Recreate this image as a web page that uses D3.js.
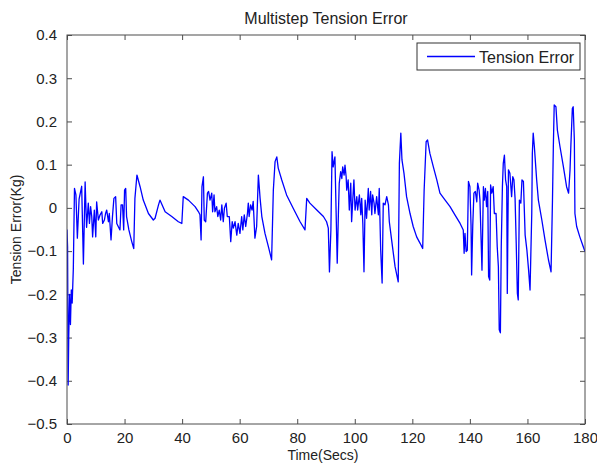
<!DOCTYPE html>
<html>
<head>
<meta charset="utf-8">
<script src="https://cdn.jsdelivr.net/npm/d3@7"></script>
<style>
  body { margin: 0; background: #fff; }
  text { font-family: "Liberation Sans", Arial, sans-serif; fill: #222; }
</style>
</head>
<body>
<div id="chart"></div>
<script>
// values
const timeSecs = [
  0, 0.2, 0.4, 0.6, 0.9, 1.2, 1.5, 1.8, 2.2, 2.6, 3.1, 3.6, 4.2, 5.1, 5.7, 6.3, 6.8, 7.4, 7.8, 8.2,
  8.6, 8.9, 9.5, 10.0, 10.3, 10.9, 11.5, 12.1, 12.4, 13.0, 13.4, 13.8, 14.4, 14.7, 15.3, 15.8, 16.3, 16.9, 17.3, 17.8,
  18.4, 18.8, 19.3, 19.7, 20.0, 20.4, 20.7, 21.5, 22.5, 23.2, 23.6, 24.3, 25.4, 26.5, 28.3, 30.0, 30.6, 31.8, 32.3, 34.1,
  36.4, 38.7, 39.9, 40.4, 42.2, 44.5, 45.7, 46.2, 46.6, 46.9, 47.4, 47.7, 48.2, 48.8, 49.2, 49.7, 50.3, 50.6, 51.1, 51.4,
  52.0, 52.4, 52.9, 53.4, 53.8, 54.3, 54.7, 55.3, 55.7, 56.4, 56.9, 57.4, 57.8, 58.4, 59.0, 59.5, 60.1, 60.7, 61.1, 61.6,
  62.1, 62.7, 63.0, 63.3, 63.8, 64.3, 64.7, 65.3, 65.9, 66.5, 67.1, 67.7, 68.8, 70.0, 71.1, 71.7, 72.3, 72.9, 73.4, 74.6,
  76.3, 78.6, 81.0, 82.7, 83.3, 84.4, 86.8, 89.1, 90.2, 90.8, 91.2, 91.7, 92.1, 92.5, 93.1, 93.9, 94.3, 94.6, 95.1, 95.5,
  95.8, 96.3, 96.6, 97.0, 97.2, 97.7, 98.1, 98.6, 98.9, 99.3, 99.7, 100.1, 100.7, 101.0, 101.6, 102.1, 102.4, 102.8, 103.2, 103.6,
  104.1, 104.7, 105.0, 105.5, 105.9, 106.2, 106.7, 107.0, 107.6, 108.2, 108.5, 109.0, 109.5, 109.9, 110.5, 111.1, 111.7, 112.0, 112.8, 114.0,
  115.1, 115.5, 116.0, 116.4, 117.1, 118.0, 119.2, 120.3, 121.5, 122.7, 123.6, 124.1, 124.8, 125.3, 126.1, 127.3, 128.5, 129.6, 131.4, 133.1,
  134.8, 136.6, 137.7, 138.0, 138.3, 138.7, 139.1, 139.5, 140.0, 140.4, 140.6, 141.0, 141.4, 141.9, 142.4, 142.7, 143.2, 143.5, 143.9, 144.2,
  144.7, 145.0, 145.4, 145.8, 146.2, 146.5, 146.9, 147.2, 147.6, 148.1, 148.5, 149.1, 149.5, 149.9, 150.2, 150.6, 150.9, 151.3, 151.6, 152.0,
  152.4, 152.8, 153.0, 153.4, 153.9, 154.5, 154.9, 155.3, 155.7, 156.1, 156.5, 156.8, 157.2, 157.7, 158.1, 158.6, 159.2, 159.8, 160.4, 160.9,
  161.5, 161.7, 162.0, 162.4, 163.2, 163.8, 165.0, 166.1, 167.3, 168.2, 168.7, 169.0, 169.3, 169.9, 170.4, 171.3, 172.5, 173.6, 174.3, 174.8,
  175.1, 175.6, 175.9, 176.3, 176.5, 177.1, 178.2, 179.4, 180.0
]
const tensionError = [
  -0.05, -0.09, -0.41, -0.30, -0.20, -0.27, -0.19, -0.22, -0.14, 0.045, 0.03, -0.07, 0.02, 0.05, -0.13, 0.06, -0.045, 0.011, -0.036, 0.003,
  -0.02, -0.067, -0.005, -0.067, 0.014, -0.028, -0.016, -0.009, -0.036, -0.028, -0.013, -0.005, -0.032, -0.013, -0.074, -0.02, 0.022, 0.026, -0.036, -0.043,
  -0.051, 0.007, 0.007, -0.051, 0.041, 0.045, -0.02, -0.051, -0.078, -0.094, 0.022, 0.076, 0.049, 0.018, -0.013, -0.028, -0.024, 0.007, 0.018, -0.009,
  -0.02, -0.032, -0.036, 0.026, 0.018, 0.003, -0.009, -0.016, -0.074, 0.049, 0.072, -0.028, -0.032, 0.034, 0.038, 0.018, 0.034, -0.009, 0.03, -0.009,
  0.003, -0.02, -0.005, -0.028, 0.007, -0.032, -0.001, 0.011, -0.02, -0.02, -0.078, -0.032, -0.047, -0.032, -0.063, -0.036, -0.059, -0.02, -0.051, -0.016,
  -0.043, -0.013, 0.011, -0.02, 0.007, -0.005, 0.015, -0.07, -0.043, 0.076, 0.022, -0.02, -0.059, -0.09, -0.12, 0.041, 0.107, 0.118, 0.092, 0.065,
  0.03, -0.001, -0.032, -0.051, 0.022, 0.011, -0.005, -0.02, -0.032, -0.047, -0.148, -0.051, 0.13, 0.095, 0.118, -0.128, -0.016, 0.057, 0.084, 0.068,
  0.095, 0.076, 0.099, 0.072, 0.041, 0.065, -0.005, 0.057, -0.032, 0.018, 0.065, -0.005, 0.026, -0.005, 0.03, -0.016, 0.022, -0.036, -0.148, 0.018,
  -0.024, 0.045, -0.005, 0.038, -0.016, 0.03, 0.011, -0.013, 0.026, -0.016, 0.045, -0.097, -0.174, 0.011, 0.007, 0.026, 0.007, -0.032, -0.074, -0.136,
  -0.171, 0.103, 0.173, 0.111, 0.08, 0.026, -0.013, -0.043, -0.067, -0.082, -0.094, 0.041, 0.153, 0.157, 0.126, 0.095, 0.065, 0.034, 0.018, 0.003,
  -0.016, -0.036, -0.051, -0.105, -0.059, -0.101, -0.098, 0.061, 0.049, -0.04, -0.155, -0.04, 0.034, 0.038, 0.014, 0.057, 0.041, 0.018, -0.074, -0.144,
  0.049, 0.018, 0.045, 0.003, 0.038, -0.159, -0.167, 0.053, 0.034, 0.049, -0.013, -0.013, -0.09, -0.136, -0.282, -0.289, -0.09, 0.049, 0.103, 0.122,
  0.065, 0.049, -0.198, 0.088, 0.08, 0.026, 0.072, 0.065, 0.022, -0.082, -0.198, -0.213, 0.018, 0.011, 0.065, 0.061, -0.063, -0.097, -0.144, -0.19,
  -0.013, 0.126, 0.173, 0.142, 0.065, 0.018, -0.028, -0.074, -0.12, -0.148, 0.018, 0.142, 0.238, 0.234, 0.18, 0.142, 0.095, 0.049, 0.034, 0.088,
  0.146, 0.23, 0.234, 0.157, -0.013, -0.043, -0.067, -0.09, -0.101
]
const xTicks = [0, 20, 40, 60, 80, 100, 120, 140, 160, 180]
const yTicks = [-0.5, -0.4, -0.3, -0.2, -0.1, 0, 0.1, 0.2, 0.3, 0.4]
const seriesName = "Tension Error"

const width = 597, height = 463
const margin = {top: 35, right: 12, bottom: 39, left: 67}
const innerW = width - margin.left - margin.right
const innerH = height - margin.top - margin.bottom
const axisColor = "#4d4d4d"

const svg = d3.select("#chart")
    .append("svg")
    .attr("width", width)
    .attr("height", height)

const g = svg.append("g")
    .attr("transform", "translate(" + margin.left + "," + margin.top + ")")

let x = d3.scaleLinear().domain([0, 180]).range([0, innerW])
let y = d3.scaleLinear().domain([-0.5, 0.4]).range([innerH, 0])

// inward ticks on all four sides, like a matlab box
function styleAxis(sel) {
    sel.select(".domain").remove()
    sel.selectAll(".tick line").attr("stroke", axisColor)
    sel.selectAll(".tick text")
        .style("font-size", "15px")
        .attr("fill", "#222")
}

g.append("g")
    .attr("transform", "translate(0," + innerH + ")")
    .call(d3.axisBottom(x).tickValues(xTicks).tickSize(-5).tickPadding(8).tickFormat(d3.format("d")))
    .call(styleAxis)
g.append("g")
    .call(d3.axisTop(x).tickValues(xTicks).tickSize(-5).tickFormat(""))
    .call(styleAxis)
g.append("g")
    .call(d3.axisLeft(y).tickValues(yTicks).tickSize(-5).tickPadding(10).tickFormat(d => d === 0 ? "0" : d3.format(".1f")(d)))
    .call(styleAxis)
g.append("g")
    .attr("transform", "translate(" + innerW + ",0)")
    .call(d3.axisRight(y).tickValues(yTicks).tickSize(-5).tickFormat(""))
    .call(styleAxis)

// the data line, clipped to the plot box
g.append("clipPath").attr("id", "plot-clip")
    .append("rect").attr("width", innerW).attr("height", innerH)

const points = timeSecs.map((t, i) => ({t: t, v: tensionError[i]}))
const line = d3.line().x(d => x(d.t)).y(d => y(d.v))

g.append("path")
    .datum(points)
    .attr("clip-path", "url(#plot-clip)")
    .attr("fill", "none")
    .attr("stroke", "#0000ff")
    .attr("stroke-width", 1.3)
    .attr("stroke-linejoin", "round")
    .attr("d", line)

// box outline
g.append("rect")
    .attr("width", innerW)
    .attr("height", innerH)
    .attr("fill", "none")
    .attr("stroke", axisColor)
    .attr("stroke-width", 1)

// legend
const legend = g.append("g").attr("transform", "translate(" + (innerW - 168) + ",8)")
legend.append("rect")
    .attr("width", 163).attr("height", 27)
    .attr("fill", "#fff").attr("stroke", "#333")
legend.append("line")
    .attr("x1", 10).attr("x2", 58).attr("y1", 13.5).attr("y2", 13.5)
    .attr("stroke", "#0000ff").attr("stroke-width", 1.3)
legend.append("text")
    .attr("x", 62).attr("y", 19.5)
    .style("font-size", "16px")
    .text(seriesName)

// title and axis labels
svg.append("text")
    .attr("x", margin.left + innerW / 2).attr("y", 24)
    .attr("text-anchor", "middle")
    .style("font-size", "16px")
    .text("Multistep Tension Error")
svg.append("text")
    .attr("x", margin.left + innerW / 2 - 3).attr("y", 460)
    .attr("text-anchor", "middle")
    .style("font-size", "14px")
    .text("Time(Secs)")
svg.append("text")
    .attr("transform", "translate(21," + (margin.top + innerH / 2) + ") rotate(-90)")
    .attr("text-anchor", "middle")
    .style("font-size", "14px")
    .text("Tension Error(Kg)")
</script>
</body>
</html>
